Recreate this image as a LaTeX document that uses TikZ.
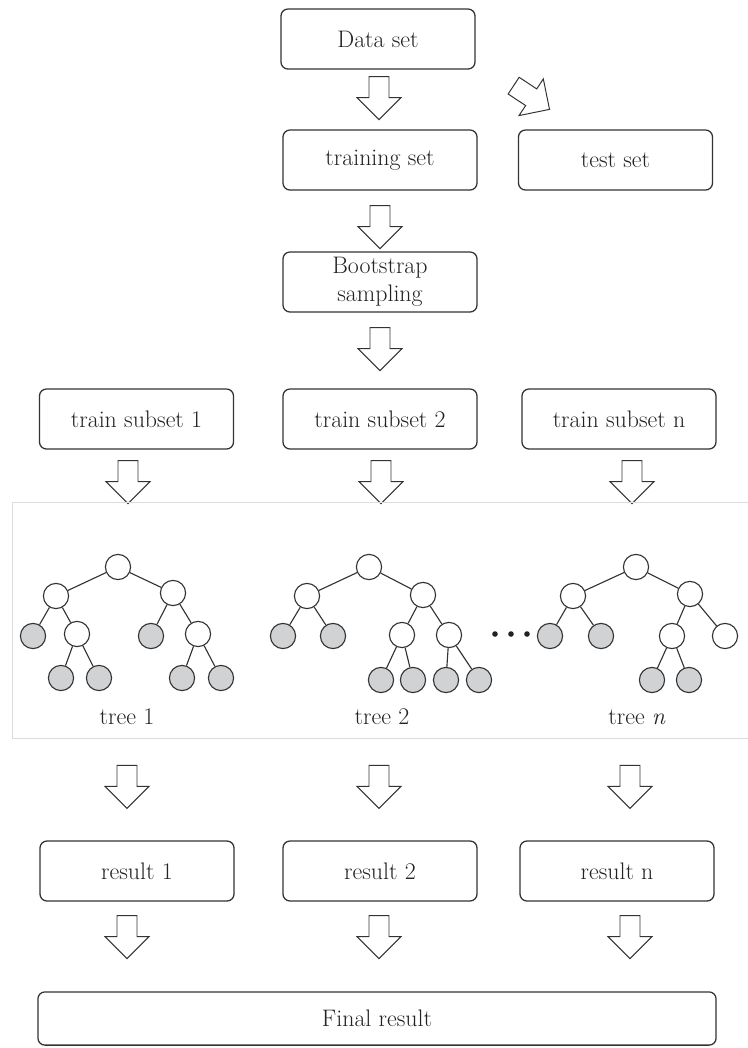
\documentclass[tikz,border=0pt]{standalone}
\usepackage{tikz}
\usetikzlibrary{positioning,calc}
\definecolor{cLine}{HTML}{333333}
\definecolor{cText}{HTML}{222222}
\definecolor{cLeaf}{HTML}{D0D2D4}
\definecolor{cFrame}{HTML}{DCDCDC}
\tikzset{
  box/.style={draw=cLine, line width=0.9pt, rounded corners=5pt, fill=white, text=cText,
              minimum width=4.85cm, minimum height=1.5cm, inner sep=2pt, align=center,
              font=\fontsize{17}{20}\selectfont},
  widebox/.style={box, minimum width=16.95cm, minimum height=1.33cm},
  nd/.style={circle, draw=cLine, line width=0.8pt, fill=white, minimum size=0.63cm, inner sep=0pt},
  lf/.style={nd, fill=cLeaf},
  edge/.style={cLine, line width=0.8pt},
  lbl/.style={text=cText, font=\fontsize{17}{20}\selectfont},
  fatline/.style={draw=cLine, line width=0.7pt, fill=white, line join=miter},
  fatarr/.pic={\path[fatline] (-10,0) -- (10,0) -- (10,21) -- (22,21) -- (0,43) -- (-22,21) -- (-10,21) -- cycle;}
}
\begin{document}
\begin{tikzpicture}[x=0.025cm, y=-0.025cm]
\useasboundingbox (0,0) rectangle (748,1048);
% ----- split of the data -----
\node[box] (data) at (378,39) {Data set};
\node[box] (train) at (380,160) {training set};
\node[box] (test) at (615.5,160) {test set};
\node[box] (boot) at (380,282) {Bootstrap\\sampling};
\pic at ($(data.south)+(1,7)$) {fatarr};
\pic[rotate=56.5] at ($(data.south east)+(38,16)$) {fatarr};
\pic at ($(train.south)+(0,15)$) {fatarr};
\pic at ($(boot.south)+(0,15)$) {fatarr};
% ----- subsets -----
\node[box] (sub1) at (136.5,419) {train subset 1};
\node[box] (sub2) at (380,419) {train subset 2};
\node[box] (subn) at (619,419) {train subset n};
\pic at ($(sub1.south)+(-8.5,11)$) {fatarr};
\pic at ($(sub2.south)+(1,11)$) {fatarr};
\pic at ($(subn.south)+(13,11)$) {fatarr};
% ----- forest panel -----
\draw[cFrame, line width=0.6pt] (748,502) -- (12,502) -- (12,738) -- (748,738);
% tree 1
\node[nd] (t1r) at (118,567) {};
\node[nd] (t1a) at (56,596) {};
\node[nd] (t1b) at (173,593) {};
\node[lf] (t1aa) at (33,636) {};
\node[nd] (t1ab) at (77,634) {};
\node[lf] (t1aba) at (61,678) {};
\node[lf] (t1abb) at (99,678) {};
\node[lf] (t1ba) at (151,636) {};
\node[nd] (t1bb) at (198,634) {};
\node[lf] (t1bba) at (182,678) {};
\node[lf] (t1bbb) at (221,678) {};
\draw[edge] (t1r) -- (t1a); \draw[edge] (t1r) -- (t1b);
\draw[edge] (t1a) -- (t1aa); \draw[edge] (t1a) -- (t1ab);
\draw[edge] (t1ab) -- (t1aba); \draw[edge] (t1ab) -- (t1abb);
\draw[edge] (t1b) -- (t1ba); \draw[edge] (t1b) -- (t1bb);
\draw[edge] (t1bb) -- (t1bba); \draw[edge] (t1bb) -- (t1bbb);
\node[lbl] (lt1) at (127,717) {tree 1};
% tree 2
\node[nd] (t2r) at (369,567) {};
\node[nd] (t2a) at (307,596) {};
\node[nd] (t2b) at (423,595) {};
\node[lf] (t2aa) at (283,636) {};
\node[lf] (t2ab) at (333,636) {};
\node[nd] (t2ba) at (402,635) {};
\node[nd] (t2bb) at (449,635) {};
\node[lf] (t2baa) at (381,680) {};
\node[lf] (t2bab) at (413,680) {};
\node[lf] (t2bba) at (446,680) {};
\node[lf] (t2bbb) at (479,680) {};
\draw[edge] (t2r) -- (t2a); \draw[edge] (t2r) -- (t2b);
\draw[edge] (t2a) -- (t2aa); \draw[edge] (t2a) -- (t2ab);
\draw[edge] (t2b) -- (t2ba); \draw[edge] (t2b) -- (t2bb);
\draw[edge] (t2ba) -- (t2baa); \draw[edge] (t2ba) -- (t2bab);
\draw[edge] (t2bb) -- (t2bba); \draw[edge] (t2bb) -- (t2bbb);
\node[lbl] (lt2) at (382,717) {tree 2};
% dots
\fill[cText] (495,634) circle (2.8) (511,634) circle (2.8) (527,634) circle (2.8);
% tree n
\node[nd] (tnr) at (636,567) {};
\node[nd] (tna) at (573,596) {};
\node[nd] (tnb) at (690,594) {};
\node[lf] (tnaa) at (550,636) {};
\node[lf] (tnab) at (601,636) {};
\node[nd] (tnba) at (672,636) {};
\node[nd] (tnbb) at (725,636) {};
\node[lf] (tnbaa) at (652,680) {};
\node[lf] (tnbab) at (689,680) {};
\draw[edge] (tnr) -- (tna); \draw[edge] (tnr) -- (tnb);
\draw[edge] (tna) -- (tnaa); \draw[edge] (tna) -- (tnab);
\draw[edge] (tnb) -- (tnba); \draw[edge] (tnb) -- (tnbb);
\draw[edge] (tnba) -- (tnbaa); \draw[edge] (tnba) -- (tnbab);
\node[lbl] (ltn) at (637,717) {tree \textit{n}};
% ----- results -----
\node[box] (res1) at (137,871) {result 1};
\node[box] (res2) at (380,871) {result 2};
\node[box] (resn) at (617,871) {result n};
\pic at ($(res1.north)+(-10,-75)$) {fatarr};
\pic at ($(res2.north)+(-1,-75)$) {fatarr};
\pic at ($(resn.north)+(13,-75)$) {fatarr};
\node[widebox] (final) at (377,1018.5) {Final result};
\pic at ($(res1.south)+(-10,14)$) {fatarr};
\pic at ($(res2.south)+(-1,14)$) {fatarr};
\pic at ($(resn.south)+(13,14)$) {fatarr};
\end{tikzpicture}
\end{document}
